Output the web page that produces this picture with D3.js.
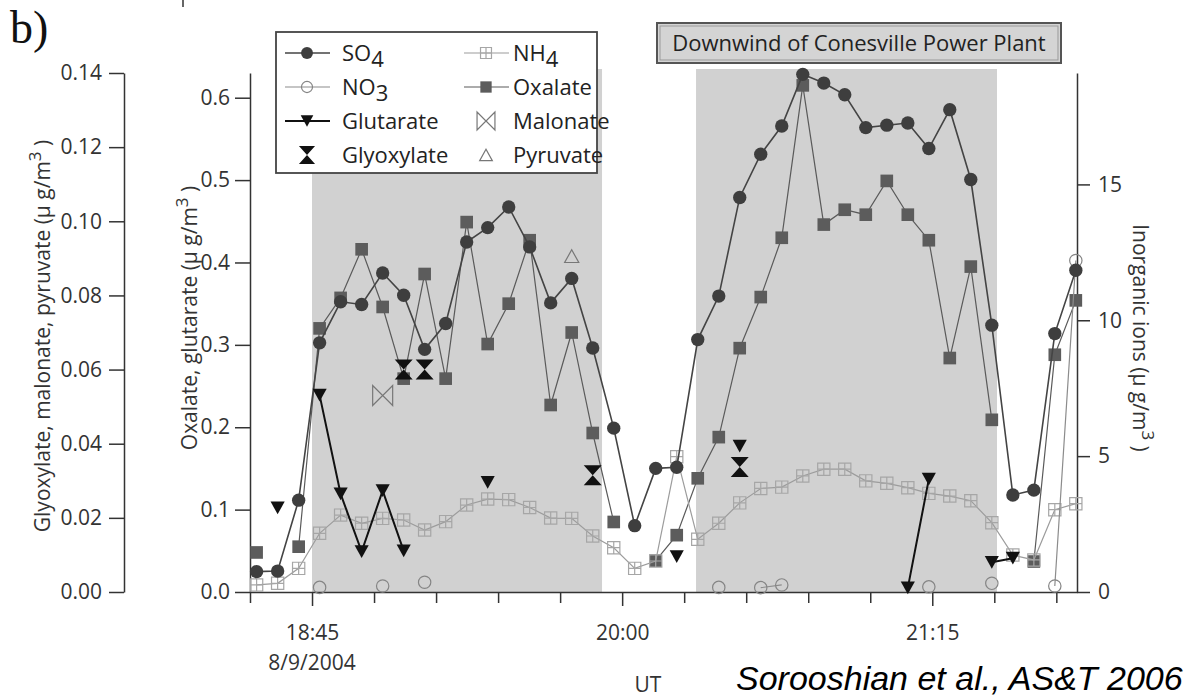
<!DOCTYPE html>
<html>
<head>
<meta charset="UTF-8">
<title>Organic acids - Conesville plume</title>
<style>
  body { margin: 0; background: white; font-family: 'Open Sans', sans-serif; }
  svg { display: block; }
  .axis text { font-family: 'Open Sans', sans-serif; font-size: 21px; fill: #333; }
  .axis path, .axis line { stroke: #333; stroke-width: 1.5px; }
  .lbl { font-family: 'Open Sans', sans-serif; font-size: 21px; fill: #333; }
  .leg { font-family: 'Open Sans', sans-serif; font-size: 22px; fill: #222; }
</style>
</head>
<body>
<svg id="chart" width="1187" height="699"></svg>
<script src="https://d3js.org/d3.v7.min.js"></script>
<script>
  const _ = null;

  // sample times (UT, 8/9/2004)
  const times = ["18:31:36","18:36:41","18:41:46","18:46:50","18:51:55","18:57:00","19:02:05","19:07:10",
    "19:12:14","19:17:19","19:22:24","19:27:29","19:32:34","19:37:38","19:42:43","19:47:48",
    "19:52:53","19:57:58","20:03:02","20:08:07","20:13:12","20:18:17","20:23:22","20:28:26",
    "20:33:31","20:38:36","20:43:41","20:48:46","20:53:50","20:58:55","21:04:00","21:09:05",
    "21:14:10","21:19:14","21:24:19","21:29:24","21:34:29","21:39:34","21:44:38","21:49:43"];

  // inorganic ions (ug/m3), right axis
  const so4 = [0.75,0.77,3.38,9.17,10.68,10.58,11.74,10.92,8.93,9.88,12.88,13.41,14.17,12.70,10.64,11.54,
    8.98,6.03,2.44,4.55,4.59,9.29,10.89,14.52,16.11,17.15,19.05,18.73,18.30,17.09,17.18,17.26,
    16.32,17.75,15.18,9.82,3.57,3.75,9.51,11.84];
  const nh4 = [0.26,0.32,0.87,2.16,2.83,2.53,2.71,2.65,2.28,2.59,3.20,3.42,3.40,3.11,2.72,2.71,
    2.06,1.63,0.87,1.14,4.98,1.94,2.53,3.28,3.81,3.86,4.27,4.52,4.52,4.09,4.00,3.84,
    3.63,3.53,3.36,2.55,1.36,1.18,3.03,3.25];
  const no3 = [_,_,_,0.17,_,_,0.22,_,0.36,_,_,_,_,_,_,_,
    _,_,_,_,_,_,0.17,_,0.16,0.26,_,_,_,_,_,_,
    0.19,_,_,0.32,_,_,0.22,12.2];

  // oxalate, glutarate (ug/m3), middle axis
  const oxalate = [0.048,_,0.055,0.320,0.357,0.416,0.346,0.259,0.386,0.259,0.449,0.301,0.350,0.427,0.227,0.315,
    0.193,0.085,_,0.038,0.069,0.138,0.188,0.296,0.358,0.430,0.615,0.446,0.464,0.458,0.499,0.458,
    0.427,0.284,0.395,0.209,_,0.037,0.288,0.354];
  const glutarate = [_,0.102,_,0.239,0.119,0.049,0.123,0.050,_,_,_,0.133,_,_,_,_,
    _,_,_,_,0.043,_,_,0.177,_,_,_,_,_,_,_,0.005,
    0.137,_,_,0.036,0.041,_,_,_];

  // glyoxylate, malonate, pyruvate (ug/m3), left axis
  const glyoxylate = [_,_,_,_,_,_,_,0.060,0.060,_,_,_,_,_,_,_,
    0.0315,_,_,_,_,_,_,0.0337,_,_,_,_,_,_,_,_,
    _,_,_,_,_,_,_,_];
  const malonate = [_,_,_,_,_,_,0.053,_,_,_,_,_,_,_,_,_,
    _,_,_,_,_,_,_,_,_,_,_,_,_,_,_,_,
    _,_,_,_,_,_,_,_];
  const pyruvate = [_,_,_,_,_,_,_,_,_,_,_,_,_,_,_,0.0906,
    _,_,_,_,_,_,_,_,_,_,_,_,_,_,_,_,
    _,_,_,_,_,_,_,_];

  const shadePeriods = [["18:45:00", "19:55:08"], ["20:17:52", "21:30:39"]];
  const xTicks = ["18:30","18:45","19:00","19:15","19:30","19:45","20:00","20:15","20:30",
    "20:45","21:00","21:15","21:30","21:45"];
  const xLabelled = ["18:45", "20:00", "21:15"];
  const leftTicks = [0, 0.02, 0.04, 0.06, 0.08, 0.10, 0.12, 0.14];
  const midTicks = [0, 0.1, 0.2, 0.3, 0.4, 0.5, 0.6];
  const rightTicks = [0, 5, 10, 15];

  const parseT = d3.timeParse("%H:%M:%S");
  const parseHM = d3.timeParse("%H:%M");
  const T = times.map(parseT);

  let svg = d3.select("#chart");

  let x = d3.scaleTime().domain([parseHM("18:30"), parseHM("21:50")]).range([250, 1077]);
  let yLeft = d3.scaleLinear([0, 0.14], [592, 73]);
  let yMid = d3.scaleLinear([0, 0.63], [592, 73]);
  let yRight = d3.scaleLinear([0, 19.1], [592, 73]);

  // custom marker shapes
  const symCrossSquare = { draw(ctx, size) { const s = Math.sqrt(size) / 2;
    ctx.rect(-s, -s, 2 * s, 2 * s); ctx.moveTo(0, -s); ctx.lineTo(0, s); ctx.moveTo(-s, 0); ctx.lineTo(s, 0); } };
  const symTriDown = { draw(ctx, size) { const s = Math.sqrt(size), w = s * 0.5, h = s * 0.45;
    ctx.moveTo(-w, -h); ctx.lineTo(w, -h); ctx.lineTo(0, h); ctx.closePath(); } };
  const symTriUp = { draw(ctx, size) { const s = Math.sqrt(size), w = s * 0.5, h = s * 0.45;
    ctx.moveTo(-w, h); ctx.lineTo(w, h); ctx.lineTo(0, -h); ctx.closePath(); } };
  const symHourglass = { draw(ctx, size) { const s = Math.sqrt(size), w = s * 0.45, h = s * 0.5;
    ctx.moveTo(-w, -h); ctx.lineTo(w, -h); ctx.lineTo(0, 0); ctx.closePath();
    ctx.moveTo(-w, h); ctx.lineTo(w, h); ctx.lineTo(0, 0); ctx.closePath(); } };
  const symBowtie = { draw(ctx, size) { const s = Math.sqrt(size), w = s * 0.5, h = s * 0.5;
    ctx.moveTo(-w, -h); ctx.lineTo(-w, h); ctx.lineTo(0, 0); ctx.closePath();
    ctx.moveTo(w, -h); ctx.lineTo(w, h); ctx.lineTo(0, 0); ctx.closePath(); } };

  // drawing order = layering order
  const series = [
    { key: "oxalate", vals: oxalate, y: yMid, line: "#5a5a5a", lw: 1.2, sym: d3.symbolSquare, size: 160, fill: "#5c5c5c", stroke: "none" },
    { key: "nh4", vals: nh4, y: yRight, line: "#9c9c9c", lw: 1.2, sym: symCrossSquare, size: 150, fill: "none", stroke: "#a6a6a6" },
    { key: "no3", vals: no3, y: yRight, line: "#8c8c8c", lw: 1.2, sym: d3.symbolCircle, size: 120, fill: "none", stroke: "#858585" },
    { key: "so4", vals: so4, y: yRight, line: "#444", lw: 1.6, sym: d3.symbolCircle, size: 140, fill: "#3e3e3e", stroke: "none" },
    { key: "glutarate", vals: glutarate, y: yMid, line: "#111", lw: 2, sym: symTriDown, size: 200, fill: "#111", stroke: "none" },
    { key: "glyoxylate", vals: glyoxylate, y: yLeft, line: null, sym: symHourglass, size: 400, fill: "#111", stroke: "none" },
    { key: "malonate", vals: malonate, y: yLeft, line: null, sym: symBowtie, size: 400, fill: "none", stroke: "#777" },
    { key: "pyruvate", vals: pyruvate, y: yLeft, line: null, sym: symTriUp, size: 200, fill: "none", stroke: "#777" }
  ];

  // shaded plume periods
  svg.append("g").selectAll("rect")
    .data(shadePeriods)
    .join("rect")
    .attr("x", d => x(parseT(d[0])))
    .attr("width", d => x(parseT(d[1])) - x(parseT(d[0])))
    .attr("y", 69)
    .attr("height", yRight(0) - 69)
    .attr("fill", "#d1d1d1");

  // axes
  svg.append("g").attr("class", "axis").attr("transform", "translate(124,0)")
    .call(d3.axisLeft(yLeft).tickValues(leftTicks).tickFormat(d3.format(".2f")).tickSize(15).tickSizeOuter(0).tickPadding(7));
  svg.append("g").attr("class", "axis").attr("transform", "translate(250,0)")
    .call(d3.axisLeft(yMid).tickValues(midTicks).tickFormat(d3.format(".1f")).tickSize(15).tickSizeOuter(0).tickPadding(5));
  svg.append("g").attr("class", "axis").attr("transform", "translate(1077,0)")
    .call(d3.axisRight(yRight).tickValues(rightTicks).tickSize(13).tickSizeOuter(0).tickPadding(8));

  let fmtHM = d3.timeFormat("%H:%M");
  let xAxis = svg.append("g").attr("class", "axis").attr("transform", "translate(0,592)")
    .call(d3.axisBottom(x).tickValues(xTicks.map(parseHM)).tickSize(11).tickSizeOuter(0)
      .tickFormat(d => xLabelled.includes(fmtHM(d)) ? fmtHM(d) : ""));
  xAxis.selectAll(".tick").filter(d => xLabelled.includes(fmtHM(d))).select("line").attr("y2", 14);
  xAxis.selectAll(".tick text").attr("y", 33);

  svg.append("text").attr("class", "lbl").attr("x", x(parseHM("18:45"))).attr("y", 670)
    .attr("text-anchor", "middle").text("8/9/2004");
  svg.append("text").attr("class", "lbl").attr("x", 648).attr("y", 692)
    .attr("text-anchor", "middle").text("UT");

  // axis titles
  function unitTitle(sel, label) {
    sel.append("tspan").text(label + " (\u00B5 g/m");
    sel.append("tspan").attr("dy", -9).attr("font-size", 17).text("3");
    sel.append("tspan").attr("dy", 9).text(" )");
  }
  svg.append("text").attr("class", "lbl").attr("text-anchor", "middle")
    .attr("transform", "translate(50,336) rotate(-90)")
    .call(unitTitle, "Glyoxylate, malonate, pyruvate");
  svg.append("text").attr("class", "lbl").attr("text-anchor", "middle")
    .attr("transform", "translate(197,318) rotate(-90)")
    .call(unitTitle, "Oxalate, glutarate");
  svg.append("text").attr("class", "lbl").attr("text-anchor", "middle")
    .attr("transform", "translate(1133,338) rotate(90)")
    .call(unitTitle, "Inorganic ions");

  // traces
  series.forEach(s => {
    let pts = s.vals.map((v, i) => ({ t: T[i], v: v }));
    if (s.line) {
      let line = d3.line().defined(d => d.v !== null).x(d => x(d.t)).y(d => s.y(d.v));
      svg.append("path").datum(pts)
        .attr("fill", "none").attr("stroke", s.line).attr("stroke-width", s.lw)
        .attr("d", line);
    }
    svg.append("g").selectAll("path")
      .data(pts.filter(d => d.v !== null))
      .join("path")
      .attr("transform", d => "translate(" + x(d.t) + "," + s.y(d.v) + ")")
      .attr("d", d3.symbol(s.sym, s.size))
      .attr("fill", s.fill)
      .attr("stroke", s.stroke)
      .attr("stroke-width", 1.2);
  });

  // legend
  const legendItems = [
    { key: "so4", label: "SO", sub: "4", col: 0, row: 0 },
    { key: "no3", label: "NO", sub: "3", col: 0, row: 1 },
    { key: "glutarate", label: "Glutarate", col: 0, row: 2 },
    { key: "glyoxylate", label: "Glyoxylate", col: 0, row: 3 },
    { key: "nh4", label: "NH", sub: "4", col: 1, row: 0 },
    { key: "oxalate", label: "Oxalate", col: 1, row: 1 },
    { key: "malonate", label: "Malonate", col: 1, row: 2 },
    { key: "pyruvate", label: "Pyruvate", col: 1, row: 3 }
  ];
  let legend = svg.append("g");
  legend.append("rect").attr("x", 276).attr("y", 32).attr("width", 321).attr("height", 141)
    .attr("fill", "white").attr("stroke", "#444").attr("stroke-width", 1.8);
  const colMark = [307, 486], colText = [342, 513], rowY = [53, 87, 121, 155];
  legendItems.forEach(it => {
    let s = series.find(q => q.key === it.key);
    let cx = colMark[it.col], cy = rowY[it.row];
    if (s.line) {
      legend.append("line").attr("x1", cx - 22).attr("x2", cx + 23).attr("y1", cy).attr("y2", cy)
        .attr("stroke", s.line).attr("stroke-width", s.lw);
    }
    legend.append("path").attr("transform", "translate(" + cx + "," + cy + ")")
      .attr("d", d3.symbol(s.sym, s.size * 0.8))
      .attr("fill", s.fill).attr("stroke", s.stroke).attr("stroke-width", 1.2);
    let t = legend.append("text").attr("class", "leg").attr("x", colText[it.col]).attr("y", cy + 8);
    t.append("tspan").text(it.label);
    if (it.sub) t.append("tspan").attr("dy", 6).text(it.sub);
  });

  // plume annotation
  let note = svg.append("g");
  note.append("rect").attr("x", 657).attr("y", 23).attr("width", 404).attr("height", 40)
    .attr("fill", "#d4d4d4").attr("stroke", "#555").attr("stroke-width", 2);
  note.append("rect").attr("x", 660).attr("y", 26).attr("width", 398).attr("height", 34)
    .attr("fill", "none").attr("stroke", "#999").attr("stroke-width", 1);
  note.append("text").attr("class", "leg").attr("x", 859).attr("y", 51)
    .attr("text-anchor", "middle").text("Downwind of Conesville Power Plant");

  // panel label, citation
  svg.append("text").attr("x", 10).attr("y", 43).attr("font-family", "'Liberation Serif', serif")
    .attr("font-size", 46).attr("fill", "#111").text("b)");
  svg.append("text").attr("x", 736).attr("y", 690).attr("font-family", "'Liberation Sans', Arial, sans-serif")
    .attr("font-style", "italic").attr("font-size", 34).attr("fill", "#000")
    .text("Sorooshian et al., AS&T 2006");
  svg.append("line").attr("x1", 183).attr("x2", 183).attr("y1", 0).attr("y2", 7)
    .attr("stroke", "#333").attr("stroke-width", 1.5);
</script>
</body>
</html>
